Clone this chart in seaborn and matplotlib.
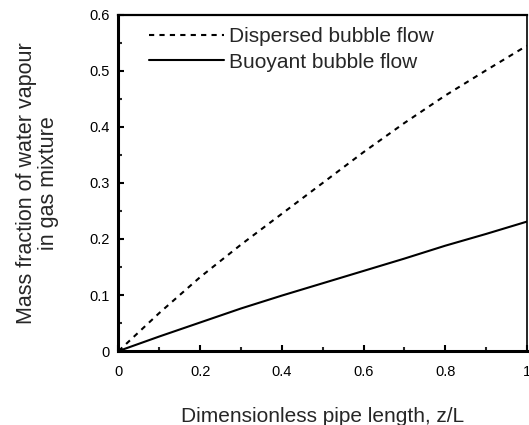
import numpy as np
import pandas as pd
import matplotlib
matplotlib.use("Agg")
import matplotlib.pyplot as plt
import seaborn as sns
from matplotlib.ticker import MultipleLocator

z = [0.0, 0.1, 0.2, 0.3, 0.4, 0.5, 0.6, 0.7, 0.8, 0.9, 1.0]
dispersed = [0.0, 0.068, 0.132, 0.190, 0.245, 0.300, 0.355, 0.407, 0.456, 0.501, 0.545]
buoyant = [0.0, 0.026, 0.051, 0.076, 0.099, 0.121, 0.143, 0.165, 0.188, 0.209, 0.231]
labels = ["Dispersed bubble flow", "Buoyant bubble flow"]

df = pd.DataFrame({
    "z": z * 2,
    "y": dispersed + buoyant,
    "series": [labels[0]] * len(z) + [labels[1]] * len(z),
})

sns.set_theme(style="white")
plt.rcParams["font.family"] = ["Liberation Sans", "DejaVu Sans"]

fig = plt.figure(figsize=(5.29, 4.25), dpi=100)
ax = fig.add_axes([0.224, 0.174, 0.772, 0.791])

sns.lineplot(data=df, x="z", y="y", style="series", style_order=labels,
             dashes={labels[0]: (2.5, 2.5), labels[1]: ""},
             color="black", linewidth=1.5, ax=ax, legend=True)

ax.set_xlim(0, 1)
ax.set_ylim(0, 0.6)
ax.xaxis.set_minor_locator(MultipleLocator(0.1))
ax.yaxis.set_minor_locator(MultipleLocator(0.05))
ax.set_xticks([0, 0.2, 0.4, 0.6, 0.8, 1.0])
ax.set_xticklabels(["0", "0.2", "0.4", "0.6", "0.8", "1"])
ax.set_yticks([0, 0.1, 0.2, 0.3, 0.4, 0.5, 0.6])
ax.set_yticklabels(["0", "0.1", "0.2", "0.3", "0.4", "0.5", "0.6"])

ax.tick_params(which="major", direction="in", length=4, width=1.5, labelsize=10.5,
               colors="black", bottom=True, left=True)
ax.tick_params(which="minor", direction="in", length=3, width=1.5,
               bottom=True, left=True)
ax.tick_params(axis="x", pad=10)
ax.tick_params(axis="y", pad=6.5)

for side, w in [("left", 2.2), ("bottom", 2.2), ("top", 1.6), ("right", 1.2)]:
    ax.spines[side].set_visible(True)
    ax.spines[side].set_color("black")
    ax.spines[side].set_linewidth(w)

ax.set_xlabel("Dimensionless pipe length, z/L", fontsize=15, labelpad=20)
ax.set_ylabel("Mass fraction of water vapour\nin gas mixture", fontsize=15.5,
              labelpad=22, linespacing=1.05)

leg = ax.legend(loc="upper left", bbox_to_anchor=(0.045, 1.0), frameon=False,
                fontsize=15, handlelength=3.6, handletextpad=0.2,
                labelspacing=0.3, borderaxespad=0.2)
for h in leg.get_lines():
    h.set_linewidth(1.5)
    h.set_color("black")

fig.savefig("out.png", dpi=100)
